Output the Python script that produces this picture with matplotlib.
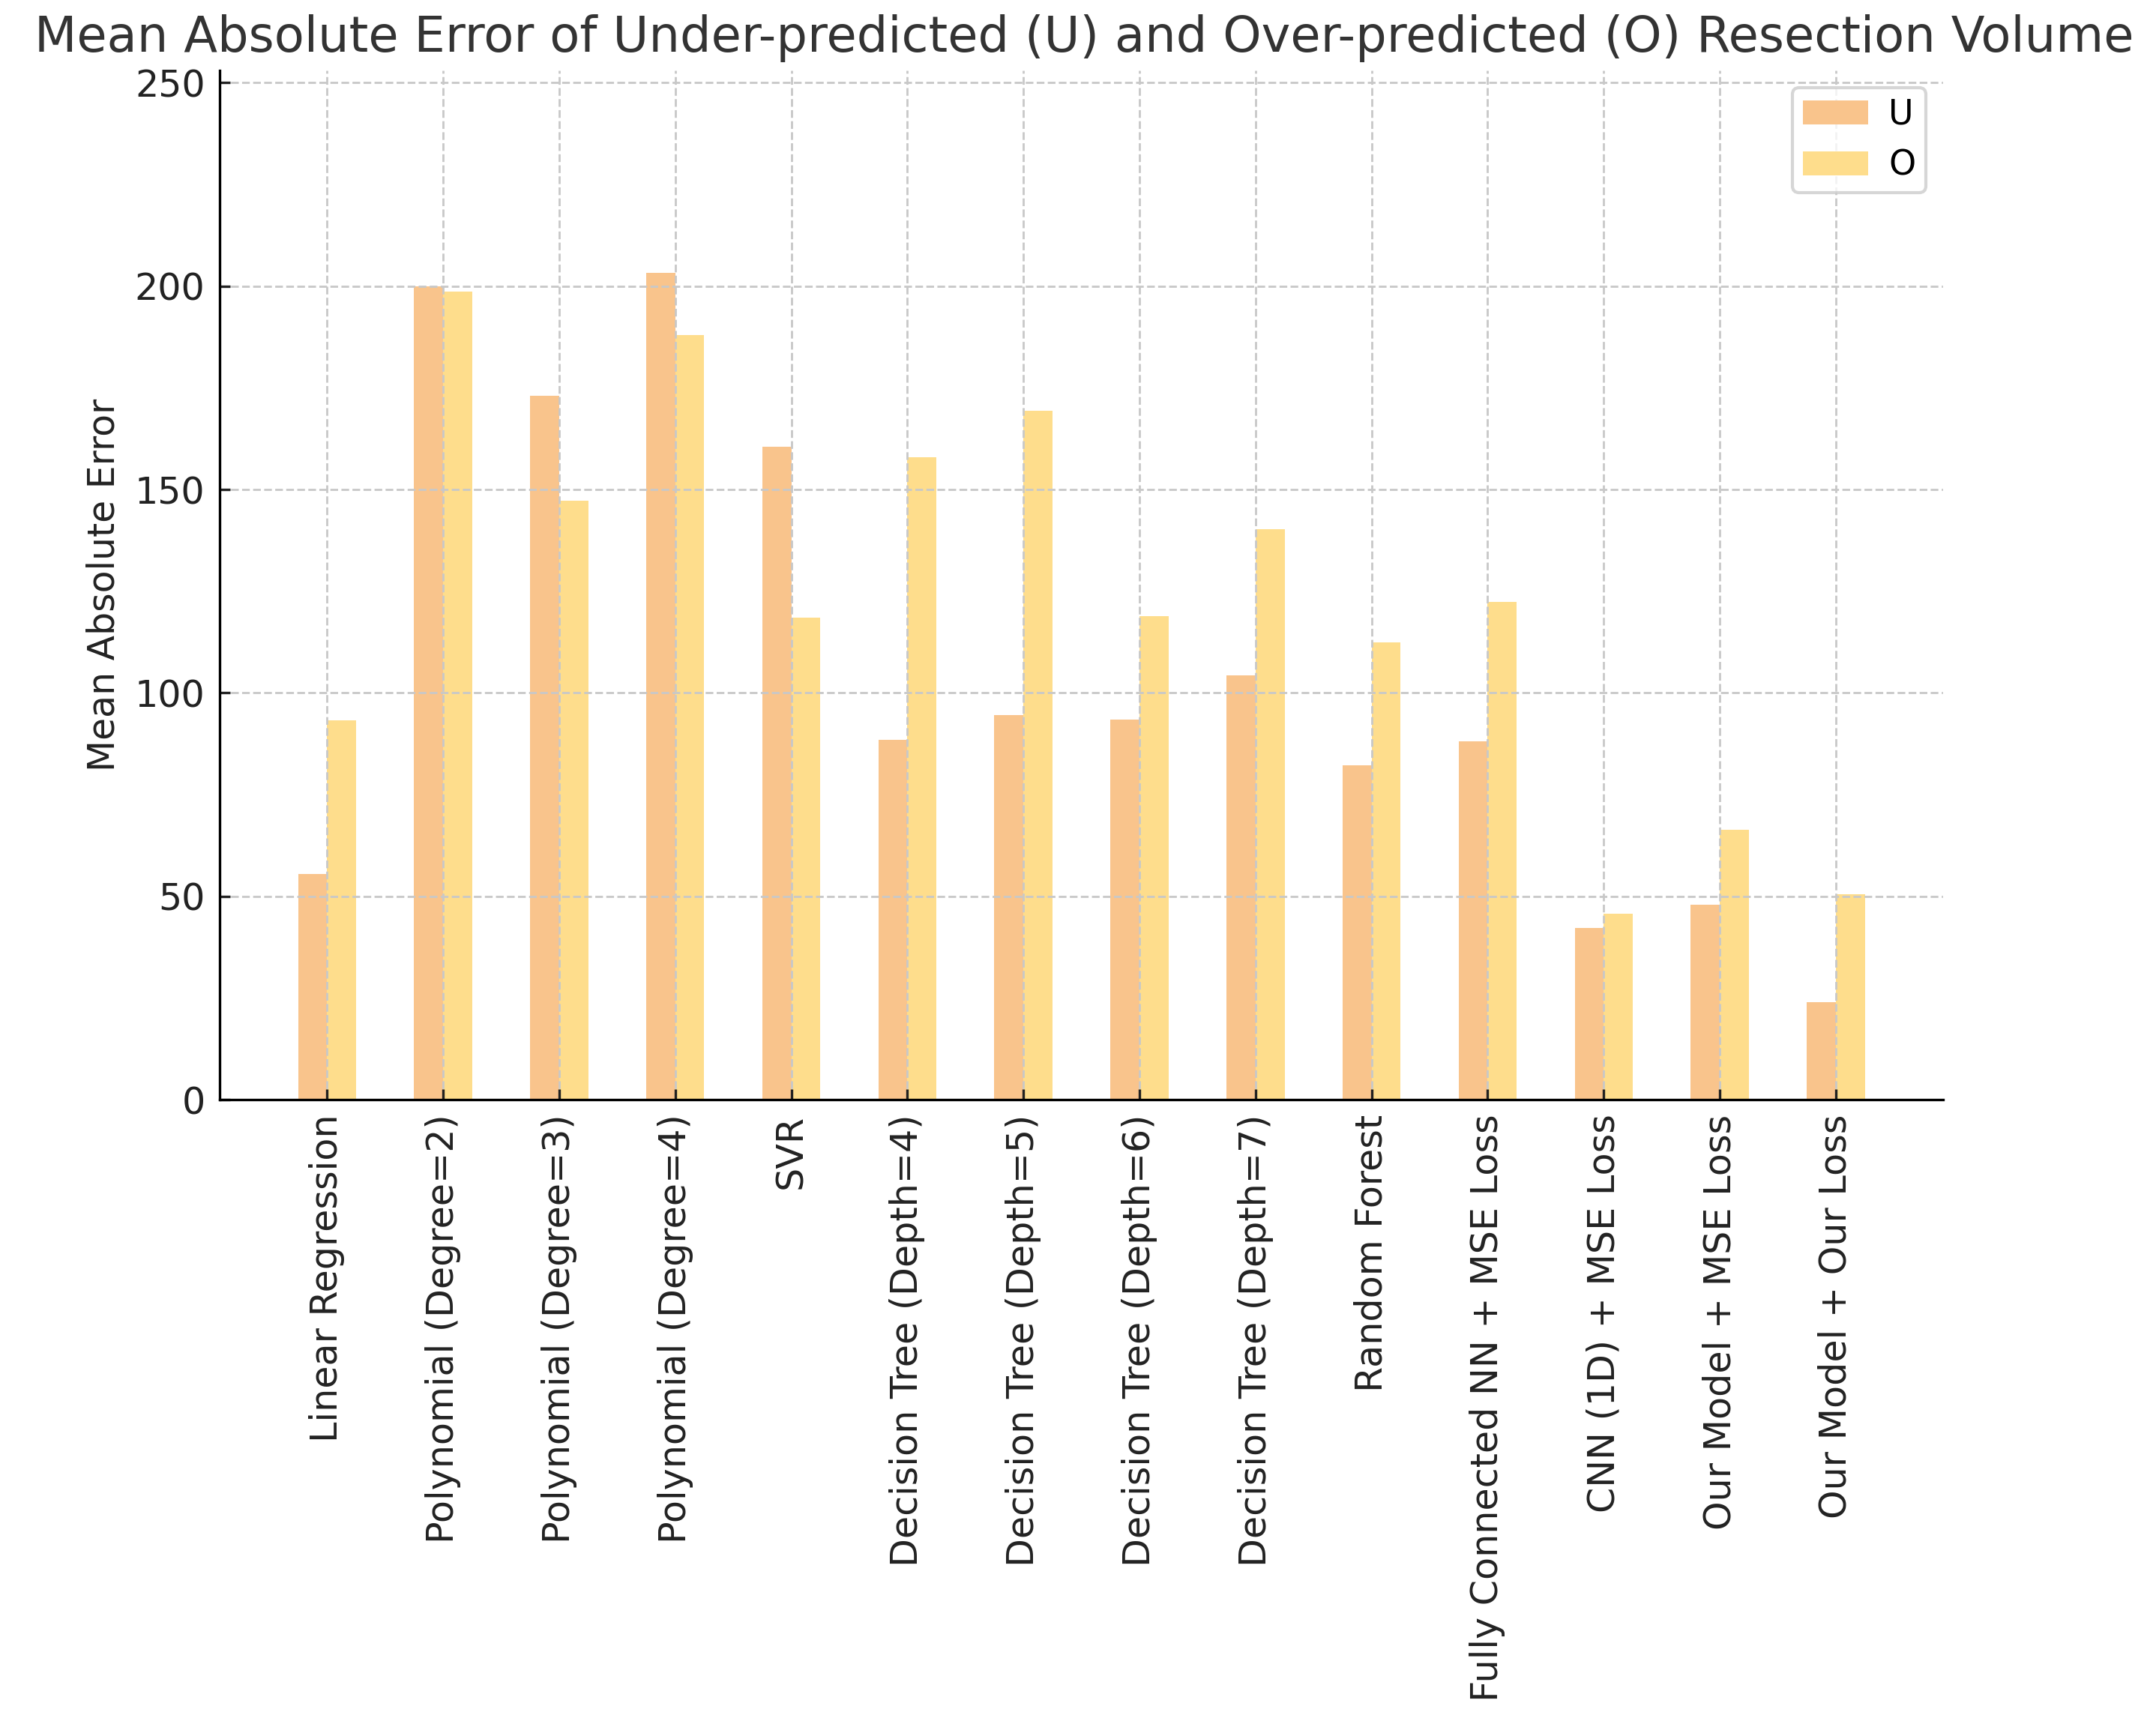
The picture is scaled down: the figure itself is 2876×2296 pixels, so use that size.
import numpy as np
import matplotlib.pyplot as plt

models = ['Linear Regression', 'Polynomial (Degree=2)', 'Polynomial (Degree=3)',
          'Polynomial (Degree=4)', 'SVR', 'Decision Tree (Depth=4)',
          'Decision Tree (Depth=5)', 'Decision Tree (Depth=6)', 'Decision Tree (Depth=7)',
          'Random Forest', 'Fully Connected NN + MSE Loss', 'CNN (1D) + MSE Loss',
          'Our Model + MSE Loss', 'Our Model + Our Loss']
mae_u = [55.5, 200.0, 173.1, 203.2, 160.5, 88.4, 94.5, 93.5, 104.3, 82.3, 88.1, 42.3, 48.0, 23.9]
mae_o = [93.2, 198.6, 147.3, 187.9, 118.6, 157.9, 169.4, 118.9, 140.2, 112.5, 122.3, 45.7, 66.3, 50.6]

x = np.arange(len(models))
w = 0.25

fig = plt.figure(figsize=(14.38, 11.48), dpi=200)
ax = fig.add_axes([0.1019, 0.361, 0.7994, 0.598])

ax.bar(x - w / 2, mae_u, w, color='#F9C48C', label='U')
ax.bar(x + w / 2, mae_o, w, color='#FEDD8C', label='O')

ax.set_axisbelow(False)
ax.grid(True, linestyle='--', color='#c8c8c8', linewidth=1.0)
ax.set_ylim(0, 253)
ax.set_yticks([0, 50, 100, 150, 200, 250])
ax.set_xticks(x)
ax.set_xticklabels(models, rotation=90)
ax.tick_params(axis='both', direction='in', length=5, width=1.2, pad=7,
               labelsize=17.7, colors='#222222')
for s in ['top', 'right']:
    ax.spines[s].set_visible(False)
for s in ['left', 'bottom']:
    ax.spines[s].set_linewidth(1.2)
    ax.spines[s].set_zorder(5)

ax.set_ylabel('Mean Absolute Error', fontsize=17.6, color='#222222')
ax.yaxis.set_label_coords(-0.057, 0.5)

leg = ax.legend(loc='upper right', fontsize=16.5, frameon=True, borderpad=0.3,
                handlelength=1.9, handletextpad=0.6)
leg.get_frame().set_edgecolor('#cccccc')
leg.get_frame().set_linewidth(1.5)

fig.text(0.503, 0.978,
         'Mean Absolute Error of Under-predicted (U) and Over-predicted (O) Resection Volume',
         ha='center', va='center', fontsize=23.6, color='#333333')

fig.savefig('out.png', dpi=200)
